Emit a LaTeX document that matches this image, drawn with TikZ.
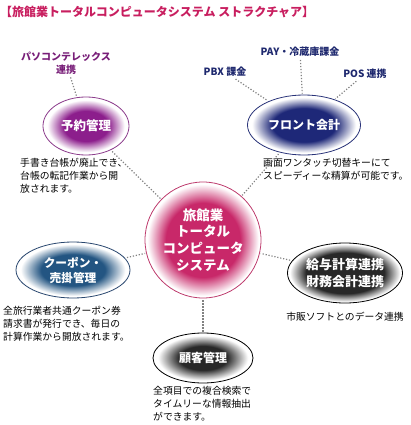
\documentclass[tikz,border=0pt]{standalone}
\usepackage{fontspec}
\setmainfont{Noto Sans CJK JP}
\usepackage{xcolor}
\usetikzlibrary{positioning,shapes.geometric}

\definecolor{titlered}{RGB}{200,30,95}
\definecolor{tagpurple}{RGB}{120,30,120}
\definecolor{tagnavy}{RGB}{30,40,110}
\definecolor{hubred}{RGB}{200,40,105}
\definecolor{hubline}{RGB}{190,60,110}
\definecolor{yoyakufill}{RGB}{140,30,140}
\definecolor{yoyakuline}{RGB}{140,60,140}
\definecolor{frontfill}{RGB}{30,40,120}
\definecolor{frontline}{RGB}{40,50,120}
\definecolor{couponfill}{RGB}{35,85,130}
\definecolor{couponline}{RGB}{40,70,110}
\definecolor{grayfill}{RGB}{40,40,40}
\definecolor{dotgray}{RGB}{130,130,130}

% soft glow behind the white labels
\newcommand{\mkglow}[4]{\pgfdeclareradialshading{#1}{\pgfpointorigin}{color(0bp)=(#2); color(#3bp)=(#2); color(#4bp)=(white); color(50bp)=(white)}}
\mkglow{glowhub}{hubred}{16}{24}
\mkglow{glowyoyaku}{yoyakufill}{13}{22.5}
\mkglow{glowfront}{frontfill}{14}{23}
\mkglow{glowcoupon}{couponfill}{14}{23}
\mkglow{glowkyuyo}{grayfill}{17}{24}
\mkglow{glowkokyaku}{grayfill}{12}{22.5}

\begin{document}
\begin{tikzpicture}[x=1pt, y=-1pt,
  hubnode/.style={circle, draw=hubline, line width=0.8pt, minimum size=116pt, inner sep=0pt, align=center, text=white, font=\bfseries\fontsize{13.5}{16.7}\selectfont},
  func/.style={ellipse, line width=0.8pt, inner sep=0pt, align=center, text=white, font=\bfseries\fontsize{12}{15}\selectfont},
  tag/.style={inner sep=1pt, align=center, font=\bfseries\fontsize{10}{13}\selectfont},
  note/.style={inner sep=0pt, anchor=north west, align=left, font=\fontsize{9.8}{12.8}\selectfont},
  dotline/.style={draw=dotgray, line width=1.2pt, dash pattern=on 1.2pt off 1.8pt, shorten <=2pt, shorten >=1pt}
]
  \useasboundingbox (0,0) rectangle (410,425);

  \node[anchor=west, inner sep=0pt, text=titlered, font=\bfseries\fontsize{12}{14}\selectfont] (title) at (0,12) {【旅館業トータルコンピュータシステム ストラクチャア】};

  % centre and the five functions
  \node[hubnode, shading=glowhub] (hub) at (203,240) {旅館業\\トータル\\コンピュータ\\システム};
  \node[func, draw=yoyakuline, shading=glowyoyaku, minimum width=86pt, minimum height=58pt, font=\bfseries\fontsize{12.5}{15}\selectfont] (yoyaku) at (86,126) {予約管理};
  \node[func, draw=frontline, shading=glowfront, minimum width=113pt, minimum height=60pt] (front) at (304,125) {フロント会計};
  \node[func, draw=couponline, shading=glowcoupon, minimum width=114pt, minimum height=56pt, font=\bfseries\fontsize{11.7}{15}\selectfont] (coupon) at (73,270) {クーポン・\\売掛管理};
  \node[func, draw=black, shading=glowkyuyo, minimum width=115pt, minimum height=60pt, font=\bfseries\fontsize{13}{17}\selectfont] (kyuyo) at (345,273) {給与計算連携\\財務会計連携};
  \node[func, draw=black, shading=glowkokyaku, minimum width=100pt, minimum height=50pt] (kokyaku) at (203,358) {顧客管理};

  % small tags
  \node[tag, text=tagpurple] (pasokon) at (66,63) {パソコンテレックス\\連携};
  \node[tag, text=tagnavy] (pbx) at (225,72) {PBX 課金};
  \node[tag, text=tagnavy] (pay) at (300,52) {PAY・冷蔵庫課金};
  \node[tag, text=tagnavy] (pos) at (365,74) {POS 連携};

  % notes
  \node[note] (yoyakunote) at (20,158) {手書き台帳が廃止でき、\\台帳の転記作業から開\\放されます。};
  \node[note] (frontnote) at (263,158) {画面ワンタッチ切替キーにて\\スピーディーな精算が可能です。};
  \node[note] (couponnote) at (3,306) {全旅行業者共通クーポン券\\請求書が発行でき、毎日の\\計算作業から開放されます。};
  \node[note, anchor=north, below=9pt of kyuyo] (kyuyonote) {市販ソフトとのデータ連携};
  \node[note] (kokyakunote) at (153,386) {全項目での複合検索で\\タイムリーな情報抽出\\ができます。};

  \draw[dotline] (pasokon) -- (yoyaku);
  \draw[dotline] (pbx) -- (front);
  \draw[dotline] (pay) -- (front);
  \draw[dotline] (pos) -- (front);
  \draw[dotline] (yoyaku) -- (hub);
  \draw[dotline] (front) -- (hub);
  \draw[dotline] (coupon) -- (hub);
  \draw[dotline] (kyuyo) -- (hub);
  \draw[dotline] (hub) -- (kokyaku);
\end{tikzpicture}
\end{document}
